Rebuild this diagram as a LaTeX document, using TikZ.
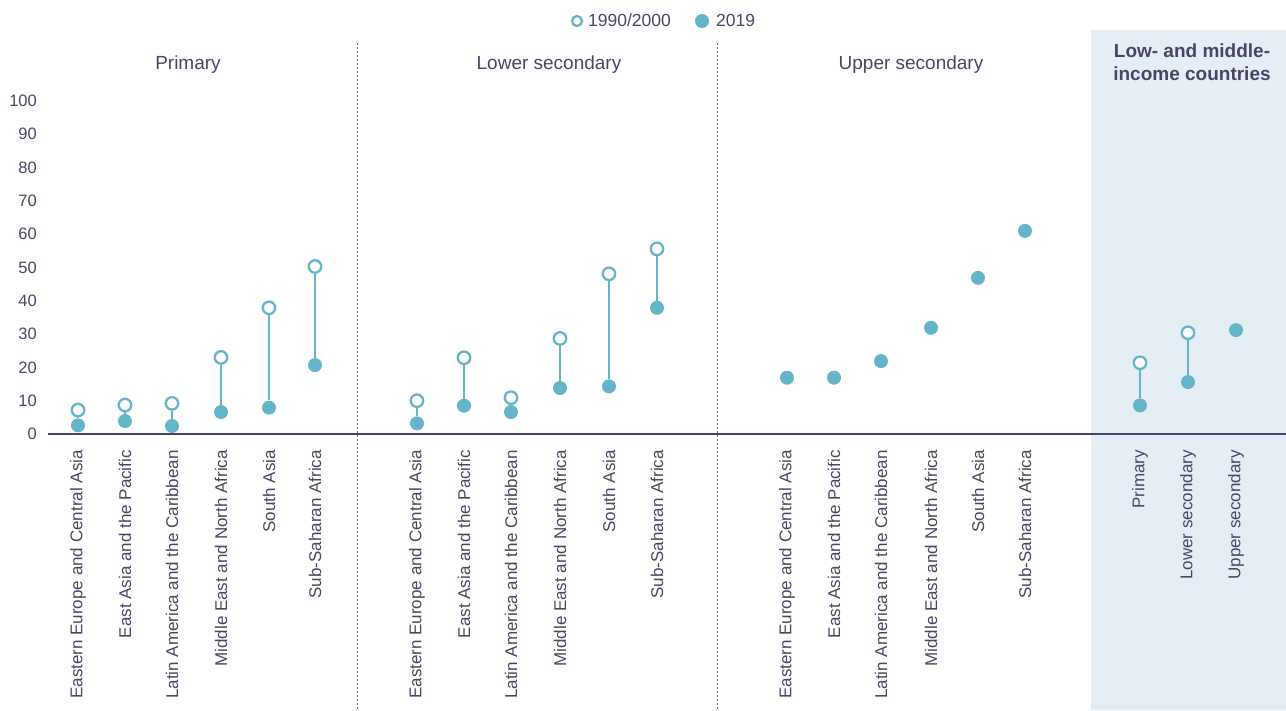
\documentclass[tikz,border=0pt]{standalone}
\usepackage{fontspec}
\setmainfont{Liberation Sans}
\definecolor{tealc}{HTML}{66B4C7}
\definecolor{ink}{HTML}{4A4567}
\definecolor{panelc}{HTML}{E5EEF4}
\begin{document}
\begin{tikzpicture}[x=1pt,y=-1pt,
  openpt/.style={circle,draw=tealc,line width=2.3pt,fill=white,minimum size=12.5pt,inner sep=0pt},
  fillpt/.style={circle,fill=tealc,minimum size=14pt,inner sep=0pt},
  conn/.style={draw=tealc,line width=2pt},
  ylab/.style={anchor=east,text=ink,font=\fontsize{16.5}{18}\selectfont,inner sep=0pt},
  xlab/.style={rotate=90,anchor=east,text=ink,font=\fontsize{17}{19}\selectfont,inner sep=0pt},
  head/.style={anchor=base,text=ink,font=\fontsize{19}{22}\selectfont,inner sep=0pt},
  titlec/.style={anchor=base,text=ink,font=\fontsize{19}{22}\selectfont\bfseries,inner sep=0pt},
  legtext/.style={anchor=base west,text=ink,font=\fontsize{17.5}{20}\selectfont,inner sep=0pt},
  divider/.style={draw=ink!85,line width=1pt,dash pattern=on 2pt off 2pt},
  axisline/.style={draw=ink,line width=1.5pt}]
\useasboundingbox (0,0) rectangle (1286,710);
% shaded panel
\fill[panelc] (1091,30) rectangle (1286,710);
% dividers
\coordinate (d1t) at (357.5,43); \coordinate (d1b) at (357.5,710);
\coordinate (d2t) at (717.5,43); \coordinate (d2b) at (717.5,710);
\draw[divider] (d1t) -- (d1b);
\draw[divider] (d2t) -- (d2b);
% axis
\coordinate (axl) at (48,434); \coordinate (axr) at (1286,434);
\draw[axisline] (axl) -- (axr);
% y labels
\foreach \v in {0,10,...,100}
  \node[ylab] (y\v) at (37,{434-3.33*\v}) {\v};
% headers
\node[head] (h1) at (188,69) {Primary};
\node[head] (h2) at (549,69) {Lower secondary};
\node[head] (h3) at (911,69) {Upper secondary};
\node[titlec] (t1) at (1192,57) {Low- and middle-};
\node[titlec] (t2) at (1192,80) {income countries};
% legend
\node[openpt,minimum size=10pt] (lo) at (577,21) {};
\node[legtext] (lot) at (588,26.5) {1990/2000};
\node[fillpt] (lf) at (702,21) {};
\node[legtext] (lft) at (716,26.5) {2019};
% paired points
\foreach \x/\o/\f [count=\i] in {78/7.2/2.6, 125/8.7/3.9, 172/9.2/2.4, 221/23/6.6, 269/37.9/7.9, 315/50.3/20.7,
  417/10.0/3.2, 464/22.9/8.5, 511/10.9/6.6, 560/28.7/13.8, 609/48.1/14.3, 657/55.6/37.9,
  1140/21.4/8.6, 1188/30.4/15.6}
{
  \node[openpt] (o\i) at (\x,{434-3.33*\o}) {};
  \node[fillpt] (f\i) at (\x,{434-3.33*\f}) {};
  \draw[conn] (o\i) -- (f\i);
}
% single points
\foreach \x/\f [count=\i] in {787/16.9, 834/16.9, 881/21.9, 931/31.9, 978/46.9, 1025/61, 1236/31.2}
  \node[fillpt] (u\i) at (\x,{434-3.33*\f}) {};
% x labels
\foreach \x/\t [count=\i] in {78/Eastern Europe and Central Asia, 125/East Asia and the Pacific,
  172/Latin America and the Caribbean, 221/Middle East and North Africa, 269/South Asia, 315/Sub-Saharan Africa,
  417/Eastern Europe and Central Asia, 464/East Asia and the Pacific,
  511/Latin America and the Caribbean, 560/Middle East and North Africa, 609/South Asia, 657/Sub-Saharan Africa,
  787/Eastern Europe and Central Asia, 834/East Asia and the Pacific,
  881/Latin America and the Caribbean, 931/Middle East and North Africa, 978/South Asia, 1025/Sub-Saharan Africa,
  1140/Primary, 1188/Lower secondary, 1236/Upper secondary}
  \node[xlab] (x\i) at (\x,450) {\t};
\end{tikzpicture}
\end{document}
